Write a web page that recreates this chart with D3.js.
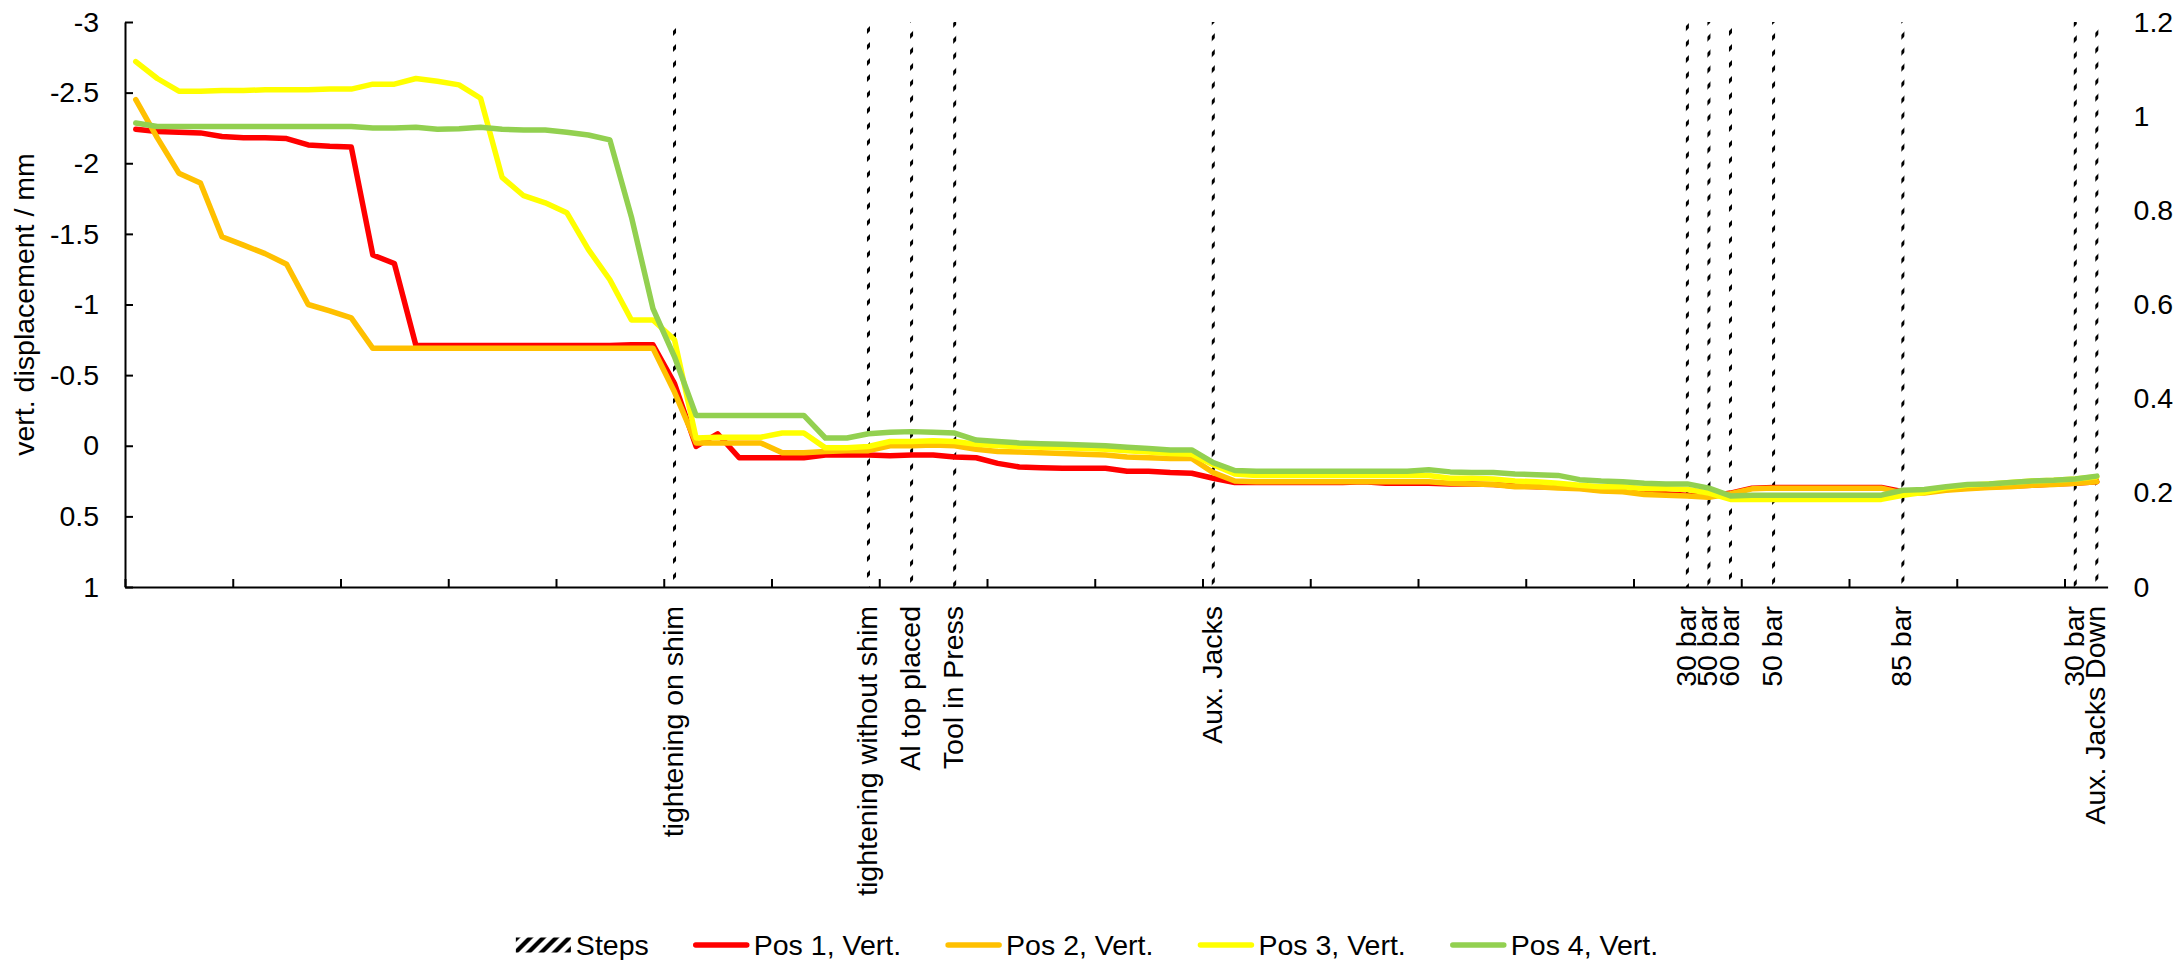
<!DOCTYPE html>
<html>
<head>
<meta charset="utf-8">
<script src="https://cdn.jsdelivr.net/npm/d3@7"></script>
<style>
  body { margin: 0; background: #fff; }
  text { font-family: "Liberation Sans", Arial, sans-serif; fill: #000; }
</style>
</head>
<body>
<svg width="2178" height="960"></svg>
<script>
// Data (92 categories, index 0..91)
var pos1 = [-2.24,-2.225,-2.22,-2.215,-2.19,-2.18,-2.18,-2.175,-2.13,-2.12,-2.115,-1.35,-1.29,-0.71,-0.71,-0.71,-0.71,-0.71,-0.71,-0.71,
  -0.71,-0.71,-0.71,-0.715,-0.715,-0.44,0.005,-0.085,0.085,0.085,0.085,0.085,0.065,0.065,0.065,0.07,0.065,0.065,0.08,0.085,
  0.125,0.15,0.155,0.16,0.16,0.16,0.18,0.18,0.19,0.195,0.23,0.26,0.26,0.26,0.26,0.26,0.26,0.255,0.265,0.265,
  0.265,0.27,0.27,0.275,0.285,0.29,0.29,0.30,0.315,0.32,0.335,0.34,0.35,0.36,0.335,0.30,0.295,0.295,0.295,0.295,
  0.295,0.295,0.325,0.325,0.31,0.30,0.29,0.285,0.28,0.27,0.265,0.255];
var pos2 = [-2.45,-2.18,-1.93,-1.86,-1.48,-1.42,-1.36,-1.285,-1.0,-0.955,-0.905,-0.69,-0.69,-0.69,-0.69,-0.69,-0.69,-0.69,-0.69,-0.69,
  -0.69,-0.69,-0.69,-0.69,-0.69,-0.38,-0.02,-0.02,-0.02,-0.02,0.05,0.05,0.04,0.035,0.035,0.0,0.0,-0.005,0.0,0.025,
  0.04,0.045,0.05,0.055,0.06,0.065,0.08,0.085,0.09,0.09,0.19,0.25,0.255,0.255,0.255,0.255,0.255,0.255,0.255,0.255,
  0.255,0.265,0.27,0.275,0.29,0.29,0.30,0.305,0.32,0.325,0.345,0.35,0.355,0.365,0.34,0.305,0.30,0.30,0.30,0.30,
  0.30,0.30,0.335,0.335,0.315,0.305,0.295,0.29,0.28,0.275,0.265,0.255];
var pos3 = [-2.72,-2.60,-2.51,-2.51,-2.515,-2.515,-2.52,-2.52,-2.52,-2.525,-2.525,-2.56,-2.56,-2.60,-2.58,-2.555,-2.46,-1.90,-1.77,-1.72,
  -1.65,-1.39,-1.175,-0.89,-0.89,-0.75,-0.055,-0.06,-0.06,-0.06,-0.09,-0.09,0.015,0.015,0.005,-0.03,-0.03,-0.035,-0.03,-0.01,
  0.0,0.005,0.01,0.015,0.02,0.025,0.035,0.045,0.055,0.06,0.135,0.20,0.21,0.21,0.21,0.21,0.21,0.21,0.21,0.21,
  0.21,0.23,0.23,0.235,0.25,0.255,0.265,0.28,0.29,0.29,0.305,0.305,0.31,0.335,0.38,0.38,0.38,0.38,0.38,0.38,
  0.38,0.38,0.35,0.33,0.30,0.28,0.27,0.26,0.25,0.245,0.235,0.22];
var pos4 = [-2.285,-2.26,-2.26,-2.26,-2.26,-2.26,-2.26,-2.26,-2.26,-2.26,-2.26,-2.25,-2.25,-2.255,-2.24,-2.245,-2.255,-2.24,-2.235,-2.235,
  -2.22,-2.20,-2.165,-1.62,-0.97,-0.63,-0.215,-0.215,-0.215,-0.215,-0.215,-0.215,-0.055,-0.055,-0.085,-0.095,-0.10,-0.095,-0.09,-0.04,
  -0.03,-0.02,-0.015,-0.01,-0.005,0.0,0.01,0.02,0.03,0.03,0.12,0.175,0.18,0.18,0.18,0.18,0.18,0.18,0.18,0.18,
  0.17,0.185,0.19,0.19,0.20,0.205,0.21,0.24,0.25,0.255,0.265,0.27,0.27,0.30,0.355,0.35,0.35,0.35,0.35,0.35,
  0.35,0.35,0.315,0.31,0.29,0.275,0.27,0.26,0.25,0.245,0.235,0.215];

// Steps: columns on the secondary axis, only at these categories
var stepIndex = [25, 34, 36, 38, 50, 72, 73, 74, 76, 82, 90, 91];
var stepLabels = ["tightening on shim", "tightening without shim", "Al top placed", "Tool in Press", "Aux. Jacks",
  "30 bar", "50 bar", "60 bar", "50 bar", "85 bar", "30 bar", "Aux. Jacks Down"];
var stepValue = 1.2;

var leftTicks = [-3, -2.5, -2, -1.5, -1, -0.5, 0, 0.5, 1];
var rightTicks = ["0", "0.2", "0.4", "0.6", "0.8", "1", "1.2"];

var seriesNames = ["Pos 1, Vert.", "Pos 2, Vert.", "Pos 3, Vert.", "Pos 4, Vert."];
var seriesColors = ["#FF0000", "#FFC000", "#FFFF00", "#92D050"];
var series = [pos1, pos2, pos3, pos4];

// category labels: blank except at the steps
var categories = pos1.map(function(d, i) {
  var k = stepIndex.indexOf(i);
  return k < 0 ? "" : stepLabels[k];
});

var svg = d3.select("svg");
var fs = 28.5;
var plotL = 125, plotR = 2107.6, plotT = 22, plotB = 587;

var x = d3.scaleBand().domain(d3.range(categories.length)).range([plotL, plotR]).paddingInner(0);
var bw = x.bandwidth();
var xEdge = d3.scaleLinear().domain([0, categories.length]).range([plotL, plotR]);
var yL = d3.scaleLinear().domain([-3, 1]).range([plotT, plotB]);
var yR = d3.scaleLinear().domain([0, 1.2]).range([plotB, plotT]);

// hatch patterns for the Steps columns
var defs = svg.append("defs");
var hatch = defs.append("pattern").attr("id", "hatch")
    .attr("patternUnits", "userSpaceOnUse").attr("width", 16).attr("height", 16);
hatch.append("polygon").attr("points", "0,0 5,0 0,5");
hatch.append("polygon").attr("points", "16,0 16,5 5,16 0,16");
var hatchL = defs.append("pattern").attr("id", "hatchLegend")
    .attr("patternUnits", "userSpaceOnUse").attr("width", 13).attr("height", 13);
hatchL.append("polygon").attr("points", "0,0 6,0 0,6");
hatchL.append("polygon").attr("points", "13,0 13,6 6,13 0,13");

// Steps columns
svg.append("g").selectAll("rect")
  .data(stepIndex)
  .enter().append("rect")
    .attr("x", function(d) { return x(d) + bw / 2 - 1.5; })
    .attr("y", yR(stepValue))
    .attr("width", 3)
    .attr("height", yR(0) - yR(stepValue))
    .attr("fill", "url(#hatch)");

// lines
var line = d3.line()
    .x(function(d, i) { return x(i) + bw / 2; })
    .y(function(d) { return yL(d); });

svg.append("g").selectAll("path")
  .data(series)
  .enter().append("path")
    .attr("d", line)
    .attr("fill", "none")
    .attr("stroke", function(d, i) { return seriesColors[i]; })
    .attr("stroke-width", 5.5)
    .attr("stroke-linejoin", "round")
    .attr("stroke-linecap", "round");

// left axis
svg.append("g")
    .attr("transform", "translate(" + plotL + ",0)")
    .call(d3.axisLeft(yL).tickValues(leftTicks).tickSizeInner(-8).tickSizeOuter(0)
      .tickPadding(26).tickFormat(function(d) { return String(d); }));

// right axis, labels only
var gr = svg.append("g")
    .attr("transform", "translate(" + plotR + ",0)")
    .call(d3.axisRight(yR).tickValues(rightTicks.map(Number)).tickSize(0)
      .tickPadding(26).tickFormat(function(d, i) { return rightTicks[i]; }));
gr.select(".domain").remove();

// bottom axis, ticks every 5 categories
svg.append("g")
    .attr("transform", "translate(0," + plotB + ")")
    .call(d3.axisBottom(xEdge).tickValues(d3.range(0, categories.length, 5))
      .tickSizeInner(-8).tickSizeOuter(0).tickFormat(""));

svg.selectAll(".domain, .tick line").attr("stroke", "#000").attr("stroke-width", 2);
svg.selectAll(".tick text").attr("font-size", fs).attr("fill", "#000");
svg.selectAll("g[font-family]").attr("font-family", null).attr("font-size", null);

// category labels, rotated
svg.append("g").selectAll("text")
  .data(categories.map(function(c, i) { return { c: c, i: i }; }).filter(function(d) { return d.c; }))
  .enter().append("text")
    .attr("transform", function(d) { return "translate(" + (x(d.i) + bw / 2) + "," + (plotB + 19) + ") rotate(-90)"; })
    .attr("text-anchor", "end")
    .attr("dy", "0.3em")
    .attr("font-size", fs)
    .text(function(d) { return d.c; });

// y axis title
svg.append("text")
    .attr("transform", "translate(34," + (plotT + plotB) / 2 + ") rotate(-90)")
    .attr("text-anchor", "middle")
    .attr("font-size", fs)
    .text("vert. displacement / mm");

// legend
var legendItems = [{ name: "Steps", hatch: true }].concat(seriesNames.map(function(n, i) {
  return { name: n, color: seriesColors[i] };
}));
var legend = svg.append("g");
var swW = 55, gapT = 5, gapI = 45, ly = 945;
var items = legend.selectAll("g").data(legendItems).enter().append("g");
items.append("text")
    .attr("x", swW + gapT)
    .attr("y", ly)
    .attr("dy", "0.35em")
    .attr("font-size", fs)
    .text(function(d) { return d.name; });
var widths = [];
items.each(function() { widths.push(d3.select(this).select("text").node().getComputedTextLength()); });
var total = d3.sum(widths) + legendItems.length * (swW + gapT) + (legendItems.length - 1) * gapI;
var cx = 1087 - total / 2;
items.attr("transform", function(d, i) {
  var px = cx;
  cx += swW + gapT + widths[i] + gapI;
  return "translate(" + px + ",0)";
});
items.filter(function(d) { return d.hatch; }).append("rect")
    .attr("x", 0).attr("y", ly - 7.5).attr("width", swW).attr("height", 15)
    .attr("fill", "url(#hatchLegend)");
items.filter(function(d) { return !d.hatch; }).append("line")
    .attr("x1", 2).attr("x2", swW - 2).attr("y1", ly).attr("y2", ly)
    .attr("stroke", function(d) { return d.color; })
    .attr("stroke-width", 5.5)
    .attr("stroke-linecap", "round");
</script>
</body>
</html>
